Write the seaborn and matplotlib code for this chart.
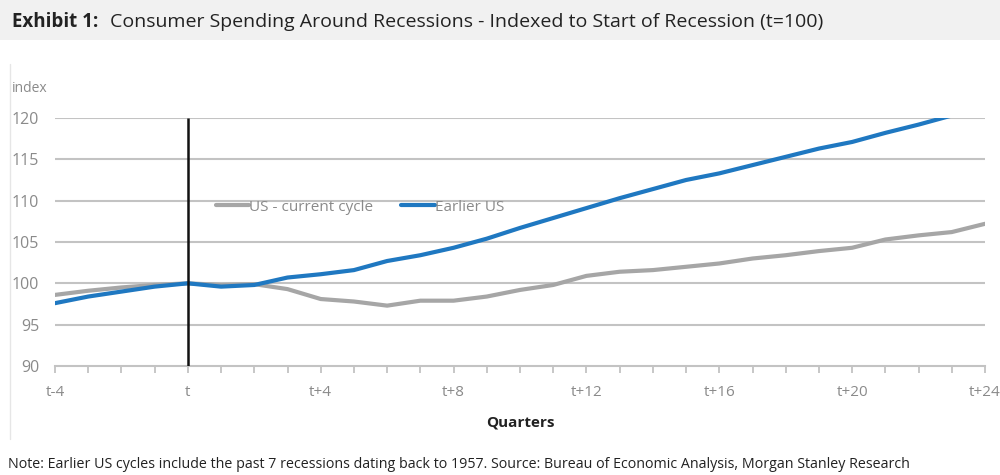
import numpy as np
import pandas as pd
import matplotlib
matplotlib.use("Agg")
import matplotlib.pyplot as plt
import seaborn as sns
from matplotlib.patches import Rectangle
from matplotlib.lines import Line2D

# ---- data ----
quarters_current = list(range(-4, 25))
us_current = [98.6, 99.1, 99.5, 99.8, 100.0, 99.8, 99.9, 99.3, 98.1, 97.8, 97.3, 97.9, 97.9,
              98.4, 99.2, 99.8, 100.9, 101.4, 101.6, 102.0, 102.4, 103.0, 103.4, 103.9,
              104.3, 105.3, 105.8, 106.2, 107.2]
quarters_earlier = list(range(-4, 24))
earlier_us = [97.6, 98.4, 99.0, 99.6, 100.0, 99.6, 99.8, 100.7, 101.1, 101.6, 102.7, 103.4,
              104.3, 105.4, 106.7, 107.9, 109.1, 110.3, 111.4, 112.5, 113.3, 114.3, 115.3,
              116.3, 117.1, 118.2, 119.2, 120.3]
series_names = ["US - current cycle", "Earlier US"]
tick_positions = [-4, 0, 4, 8, 12, 16, 20, 24]
tick_labels = ["t-4", "t", "t+4", "t+8", "t+12", "t+16", "t+20", "t+24"]
y_ticks = [90, 95, 100, 105, 110, 115, 120]

df = pd.concat([
    pd.DataFrame({"q": quarters_current, "v": us_current, "s": series_names[0]}),
    pd.DataFrame({"q": quarters_earlier, "v": earlier_us, "s": series_names[1]}),
])

sns.set_theme(style="white")
plt.rcParams["font.family"] = ["Open Sans", "DejaVu Sans"]

fig = plt.figure(figsize=(10, 4.75), dpi=100)
ax = fig.add_axes([0.055, 0.2295, 0.93, 0.5221])

gray = "#a6a6a6"
blue = "#1f78c1"
grid_c = "#c3c3c3"
txt_c = "#8a8a8a"

for y in y_ticks[1:]:
    ax.axhline(y, color=grid_c, lw=1.5, zorder=0)

sns.lineplot(data=df, x="q", y="v", hue="s", palette={series_names[0]: gray, series_names[1]: blue},
             ax=ax, lw=3.0, legend=False, zorder=3)

ax.vlines(0, 90, 120, color="#111111", lw=1.8, zorder=4)

ax.set_xlim(-4, 24)
ax.set_ylim(90, 120)
ax.set_yticks(y_ticks)
ax.set_yticklabels([str(v) for v in y_ticks], color=txt_c, fontsize=11.5)
ax.set_xticks(tick_positions)
ax.set_xticklabels(tick_labels, color=txt_c, fontsize=11)
ax.set_xticks([q for q in range(-4, 25) if q not in tick_positions], minor=True)
ax.tick_params(axis="x", which="both", bottom=True, direction="out", length=5,
               color=grid_c, width=1.3, pad=9)
ax.tick_params(axis="y", length=0, pad=11.5)
for sp in ["top", "right", "left"]:
    ax.spines[sp].set_visible(False)
ax.spines["bottom"].set_color(grid_c)
ax.spines["bottom"].set_linewidth(1.5)
ax.set_xlabel("Quarters", fontsize=11, fontweight="bold", color="#222222", labelpad=11)
ax.set_ylabel("")

handles = [Line2D([], [], color=gray, lw=3), Line2D([], [], color=blue, lw=3)]
leg = ax.legend(handles, series_names, loc="center left", bbox_to_anchor=(0.158, 0.64),
                frameon=False, ncol=2, handlelength=2.2, handletextpad=0.0, columnspacing=1.8,
                fontsize=11)
for t in leg.get_texts():
    t.set_color(txt_c)

fig.text(0.012, 0.813, "index", fontsize=10, color=txt_c, va="center")

# title band
fig.patches.append(Rectangle((0, 0.915), 1, 0.085, transform=fig.transFigure,
                             facecolor="#f1f1f1", edgecolor="none", zorder=0))
fig.text(0.012, 0.953, "Exhibit 1:", fontsize=13.5, fontweight="bold", color="#222222", va="center")
fig.text(0.110, 0.953, "Consumer Spending Around Recessions - Indexed to Start of Recession (t=100)",
         fontsize=14, color="#222222", va="center")

# faint chart frame line
fig.add_artist(Line2D([0.01, 0.01], [0.075, 0.865], transform=fig.transFigure, color="#e6e6e6", lw=1))

fig.text(0.008, 0.022,
         "Note: Earlier US cycles include the past 7 recessions dating back to 1957. Source: Bureau of Economic Analysis, Morgan Stanley Research",
         fontsize=10.3, color="#222222", va="center")

fig.savefig("out.png", dpi=100, facecolor="white")
